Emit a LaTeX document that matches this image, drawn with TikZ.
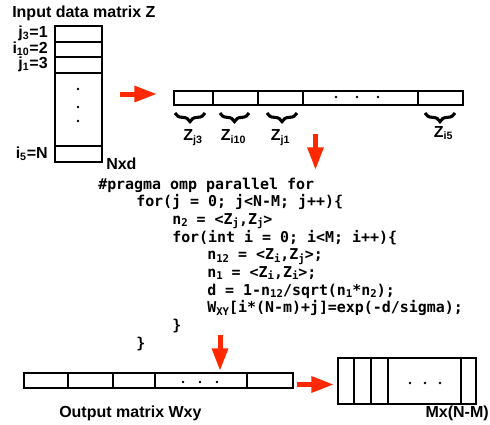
\documentclass[tikz,border=0pt]{standalone}
\usepackage{fontspec}
\setmainfont{Liberation Sans}
\newfontfamily\codefont{DejaVu Sans Mono}
\usetikzlibrary{arrows.meta,decorations.pathreplacing}
\definecolor{arrowred}{RGB}{255,40,0}
\newcommand\csub[1]{\raisebox{-0.3ex}{\fontsize{8}{8}\selectfont #1}}
\begin{document}
\begin{tikzpicture}[x=0.75pt,y=-0.75pt,
  lbl/.style={font=\fontsize{12}{13}\selectfont\bfseries, inner sep=0},
  codeline/.style={font=\fontsize{11.2}{13}\selectfont\codefont\bfseries, inner sep=0, anchor=base west},
  cell/.style={draw, line width=1.2pt},
  bigarrow/.style={draw=arrowred, line width=3.75pt, -{Triangle[length=17pt,width=11.5pt]}},
  zbrace/.style={decorate, decoration={brace,mirror,amplitude=6.5pt}, line width=2.3pt},
  dotm/.style={fill, circle, inner sep=0, minimum size=2.2pt}]
\useasboundingbox (0,0) rectangle (490,425);

% title
\node[lbl, anchor=base west] (title) at (12,17.3) {Input data matrix Z};

% column matrix Z
\draw[cell] (55,26) rectangle (102,162);
\foreach \yy in {42,57,73,146} \draw[cell] (55,\yy) -- (102,\yy);
\node[dotm] (cd1) at (78,89) {};
\node[dotm] (cd2) at (78,107) {};
\node[dotm] (cd3) at (78,121) {};
\node[lbl, anchor=base east] (lj3) at (48,37) {j\textsubscript{3}=1};
\node[lbl, anchor=base east] (li10) at (48,53) {i\textsubscript{10}=2};
\node[lbl, anchor=base east] (lj1) at (48,68.5) {j\textsubscript{1}=3};
\node[lbl, anchor=base east] (li5) at (48,158.3) {i\textsubscript{5}=N};
\node[lbl, anchor=base west] (nxd) at (106,169) {Nxd};

% arrow 1
\coordinate (a1s) at (120,94);
\coordinate (a1e) at (157,94);
\draw[bigarrow] (a1s) -- (a1e);

% row vector
\draw[cell] (174,91) rectangle (463,105);
\foreach \xx in {213,258,303,418} \draw[cell] (\xx,91) -- (\xx,105);
\node[dotm] (rd1) at (336,97) {};
\node[dotm] (rd2) at (357,97) {};
\node[dotm] (rd3) at (378,97) {};

% braces
\draw[zbrace] (175,113) -- (205,113);
\draw[zbrace] (220,113) -- (249,113);
\draw[zbrace] (267,113) -- (297,113);
\draw[zbrace] (425,113) -- (455,113);
\node[lbl, anchor=base] (zj3) at (193,140.7) {Z\textsubscript{j3}};
\node[lbl, anchor=base] (zi10) at (233.5,140.7) {Z\textsubscript{i10}};
\node[lbl, anchor=base] (zj1) at (280.5,140.7) {Z\textsubscript{j1}};
\node[lbl, anchor=base] (zi5) at (443.5,137) {Z\textsubscript{i5}};

% arrow 2
\coordinate (a2s) at (315.5,134);
\coordinate (a2e) at (315.5,170);
\draw[bigarrow] (a2s) -- (a2e);

% code
\node[codeline] (c1) at (98,189) {\#pragma omp parallel for};
\node[codeline] (c2) at (136,206.7) {for(j = 0; j<N-M; j++)\{};
\node[codeline] (c3) at (172,224.3) {n\csub{2} = <Z\csub{j},Z\csub{j}>};
\node[codeline] (c4) at (172,242) {for(int i = 0; i<M; i++)\{};
\node[codeline] (c5) at (207,259.7) {n\csub{12} = <Z\csub{i},Z\csub{j}>;};
\node[codeline] (c6) at (207,277.3) {n\csub{1} = <Z\csub{i},Z\csub{i}>;};
\node[codeline] (c7) at (207,295) {d = 1-n\csub{12}/sqrt(n\csub{1}*n\csub{2});};
\node[codeline] (c8) at (207,312.7) {W\csub{XY}[i*(N-m)+j]=exp(-d/sigma);};
\node[codeline] (c9) at (172,330.3) {\}};
\node[codeline] (c10) at (136,348) {\}};

% arrow 3
\coordinate (a3s) at (220,335);
\coordinate (a3e) at (220,371);
\draw[bigarrow] (a3s) -- (a3e);

% output row
\draw[cell] (24,373) rectangle (293,388);
\foreach \xx in {68,113,155,247} \draw[cell] (\xx,373) -- (\xx,388);
\node[dotm] (od1) at (183,382) {};
\node[dotm] (od2) at (200,382) {};
\node[dotm] (od3) at (217,382) {};
\node[lbl, anchor=base west] (outl) at (59,417) {Output matrix Wxy};

% arrow 4
\coordinate (a4s) at (297,384.5);
\coordinate (a4e) at (334,384.5);
\draw[bigarrow] (a4s) -- (a4e);

% matrix M x (N-M)
\draw[cell] (338,358) rectangle (476,404);
\foreach \xx in {354,371,388,461} \draw[cell] (\xx,358) -- (\xx,404);
\node[dotm] (md1) at (410,383) {};
\node[dotm] (md2) at (425,383) {};
\node[dotm] (md3) at (440,383) {};
\node[lbl, anchor=base east] (mlab) at (489,417.7) {Mx(N-M)};
\end{tikzpicture}
\end{document}
